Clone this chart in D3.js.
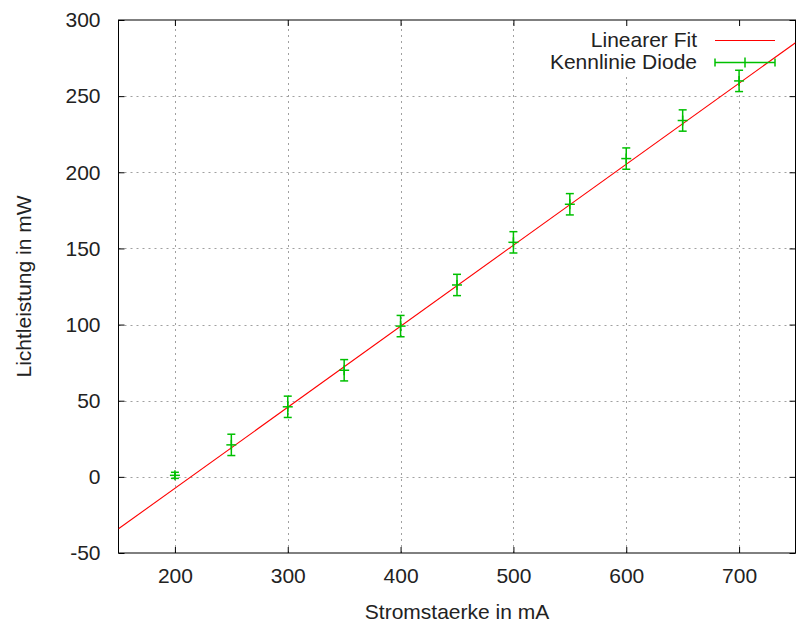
<!DOCTYPE html>
<html>
<head>
<meta charset="utf-8">
<script src="https://cdn.jsdelivr.net/npm/d3@7"></script>
<style>
  body { margin: 0; background: #fff; }
  text { font-family: "Liberation Sans", Arial, sans-serif; font-size: 21px; fill: #222; }
</style>
</head>
<body>
<div id="chart"></div>
<script>
// measured data (Stromstaerke in mA vs Lichtleistung in mW)
var current = [200, 250, 300, 350, 400, 450, 500, 550, 600, 650, 700];
var power   = [1, 21, 46, 70, 99, 126, 154, 179, 209, 234, 260];
var powerErr = [2, 7, 7, 7, 7, 7, 7, 7, 7, 7, 7];

// linear fit  P = a * I + b
var fitSlope = 0.532, fitIntercept = -113.9;

var xTicks = [200, 300, 400, 500, 600, 700];
var yTicks = [-50, 0, 50, 100, 150, 200, 250, 300];

var width = 796, height = 631;
var margin = {top: 20, right: 0.5, bottom: 78, left: 118.5};

var svg = d3.select("#chart").append("svg")
    .attr("width", width)
    .attr("height", height);

var x = d3.scaleLinear().domain([150, 750]).range([margin.left, width - margin.right]);
var y = d3.scaleLinear().domain([-50, 300]).range([height - margin.bottom, margin.top]);

var gridColor = "#a0a0a0";
var keyBottom = 74;

// grid (gnuplot leaves the key area free)
svg.append("g").selectAll("line")
    .data(xTicks)
    .enter().append("line")
    .attr("x1", function(d) { return Math.round(x(d)) + 0.5; })
    .attr("x2", function(d) { return Math.round(x(d)) + 0.5; })
    .attr("y1", y(-50))
    .attr("y2", function(d) { return x(d) > 520 ? keyBottom : y(300); })
    .attr("stroke", gridColor)
    .attr("stroke-dasharray", "2,4");

svg.append("g").selectAll("line")
    .data(yTicks.filter(function(d) { return d > -50 && d < 300; }))
    .enter().append("line")
    .attr("x1", x(150))
    .attr("x2", x(750))
    .attr("y1", function(d) { return Math.round(y(d)) + 0.5; })
    .attr("y2", function(d) { return Math.round(y(d)) + 0.5; })
    .attr("stroke", gridColor)
    .attr("stroke-dasharray", "2,4");

// axes with inward ticks, mirrored
var plain = function(d) { return String(d); };
var xAxisB = d3.axisBottom(x).tickValues(xTicks).tickSize(-6).tickPadding(15).tickFormat(plain);
var xAxisT = d3.axisTop(x).tickValues(xTicks).tickSize(-6).tickFormat("");
var yAxisL = d3.axisLeft(y).tickValues(yTicks).tickSize(-6).tickPadding(18).tickFormat(plain);
var yAxisR = d3.axisRight(y).tickValues(yTicks).tickSize(-6).tickFormat("");

function styleAxis(g) {
  g.select(".domain").remove();
  g.selectAll("line").attr("stroke", "#000");
  g.selectAll("text").attr("font-size", null).attr("font-family", null).attr("fill", "#222");
}

svg.append("g").attr("transform", "translate(0," + y(-50) + ")").call(xAxisB).call(styleAxis);
svg.append("g").attr("transform", "translate(0," + y(300) + ")").call(xAxisT).call(styleAxis);
svg.append("g").attr("transform", "translate(" + x(150) + ",0)").call(yAxisL).call(styleAxis);
svg.append("g").attr("transform", "translate(" + x(750) + ",0)").call(yAxisR).call(styleAxis);

// border
svg.append("rect")
    .attr("x", x(150))
    .attr("y", y(300))
    .attr("width", x(750) - x(150))
    .attr("height", y(-50) - y(300))
    .attr("fill", "none")
    .attr("stroke", "#000");

// clip for the fit line
svg.append("clipPath").attr("id", "plotclip")
  .append("rect")
    .attr("x", x(150)).attr("y", y(300))
    .attr("width", x(750) - x(150)).attr("height", y(-50) - y(300));

var red = "#ff0000", green = "#00c000";

var fitLine = d3.line()
    .x(function(d) { return x(d); })
    .y(function(d) { return y(fitSlope * d + fitIntercept); });

svg.append("path")
    .datum([150, 750])
    .attr("d", fitLine)
    .attr("clip-path", "url(#plotclip)")
    .attr("fill", "none")
    .attr("stroke", red)
    .attr("stroke-width", 1.1);

// error bars with '+' points
var capW = 4, plusW = 5;
var pts = svg.append("g").selectAll("g")
    .data(current)
    .enter().append("g")
    .attr("stroke", green)
    .attr("stroke-width", 1.5);

pts.append("line")
    .attr("x1", function(d) { return x(d); })
    .attr("x2", function(d) { return x(d); })
    .attr("y1", function(d, i) { return y(power[i] - powerErr[i]); })
    .attr("y2", function(d, i) { return y(power[i] + powerErr[i]); });
pts.append("line")
    .attr("x1", function(d) { return x(d) - capW; })
    .attr("x2", function(d) { return x(d) + capW; })
    .attr("y1", function(d, i) { return y(power[i] - powerErr[i]); })
    .attr("y2", function(d, i) { return y(power[i] - powerErr[i]); });
pts.append("line")
    .attr("x1", function(d) { return x(d) - capW; })
    .attr("x2", function(d) { return x(d) + capW; })
    .attr("y1", function(d, i) { return y(power[i] + powerErr[i]); })
    .attr("y2", function(d, i) { return y(power[i] + powerErr[i]); });
pts.append("line")
    .attr("x1", function(d) { return x(d) - plusW; })
    .attr("x2", function(d) { return x(d) + plusW; })
    .attr("y1", function(d, i) { return y(power[i]); })
    .attr("y2", function(d, i) { return y(power[i]); });
pts.append("line")
    .attr("x1", function(d) { return x(d); })
    .attr("x2", function(d) { return x(d); })
    .attr("y1", function(d, i) { return y(power[i]) - plusW; })
    .attr("y2", function(d, i) { return y(power[i]) + plusW; });

// key
var keyTextX = 697, keyX1 = 715, keyX2 = 775;
var key = svg.append("g");
key.append("text").attr("x", keyTextX).attr("y", 40).attr("dy", "0.35em")
    .attr("text-anchor", "end").text("Linearer Fit");
key.append("line").attr("x1", keyX1).attr("x2", keyX2).attr("y1", 40.5).attr("y2", 40.5)
    .attr("stroke", red).attr("stroke-width", 1.1);
key.append("text").attr("x", keyTextX).attr("y", 62).attr("dy", "0.35em")
    .attr("text-anchor", "end").text("Kennlinie Diode");
var keyErr = key.append("g").attr("stroke", green).attr("stroke-width", 1.5);
keyErr.append("line").attr("x1", keyX1).attr("x2", keyX2).attr("y1", 62.5).attr("y2", 62.5);
keyErr.append("line").attr("x1", keyX1).attr("x2", keyX1).attr("y1", 58.5).attr("y2", 66.5);
keyErr.append("line").attr("x1", keyX2).attr("x2", keyX2).attr("y1", 58.5).attr("y2", 66.5);
keyErr.append("line").attr("x1", (keyX1 + keyX2) / 2).attr("x2", (keyX1 + keyX2) / 2).attr("y1", 57.5).attr("y2", 67.5);

// axis titles
svg.append("text")
    .attr("x", (x(150) + x(750)) / 2)
    .attr("y", 612)
    .attr("dy", "0.35em")
    .attr("text-anchor", "middle")
    .text("Stromstaerke in mA");

svg.append("text")
    .attr("transform", "translate(24," + (y(-50) + y(300)) / 2 + ") rotate(-90)")
    .attr("dy", "0.35em")
    .attr("text-anchor", "middle")
    .text("Lichtleistung in mW");
</script>
</body>
</html>
